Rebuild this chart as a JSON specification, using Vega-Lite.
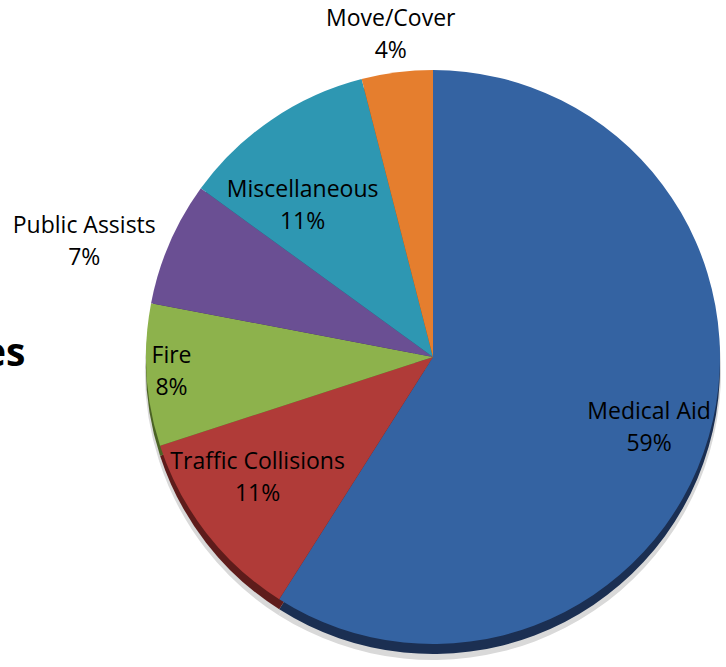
{
  "$schema": "https://vega.github.io/schema/vega-lite/v6.json",
  "width": 586,
  "height": 620,
  "autosize": "none",
  "padding": {"left": 140, "top": 47, "right": 0, "bottom": 0},
  "background": "white",
  "title": {
    "text": "es",
    "anchor": "start",
    "frame": "group",
    "orient": "top",
    "fontSize": 39,
    "fontWeight": "bold",
    "font": "Open Sans",
    "color": "#000000",
    "dx": -157,
    "dy": 370
  },
  "data": {
    "values": [
      {"category": "Medical Aid", "value": 59, "order": 1},
      {"category": "Traffic Collisions", "value": 11, "order": 2},
      {"category": "Fire", "value": 8, "order": 3},
      {"category": "Public Assists", "value": 7, "order": 4},
      {"category": "Miscellaneous", "value": 11, "order": 5},
      {"category": "Move/Cover", "value": 4, "order": 6}
    ]
  },
  "transform": [
    {"stack": "value", "groupby": [], "sort": [{"field": "order", "order": "ascending"}], "as": ["v0", "v1"]},
    {"calculate": "(datum.v0 + datum.v1) / 2", "as": "mid"},
    {"calculate": "[datum.category, datum.value + '%']", "as": "label"}
  ],
  "config": {"view": {"stroke": null}},
  "layer": [
    {
      "mark": {"type": "arc", "radius": 288, "yOffset": 15, "fill": "#d9d9d9"},
      "encoding": {
        "theta": {"field": "v0", "type": "quantitative", "scale": {"domain": [0, 100]}},
        "theta2": {"field": "v1"}
      }
    },
    {
      "mark": {"type": "arc", "radius": 287, "yOffset": 10},
      "encoding": {
        "theta": {"field": "v0", "type": "quantitative", "scale": {"domain": [0, 100]}},
        "theta2": {"field": "v1"},
        "color": {
          "field": "category", "type": "nominal", "legend": null,
          "scale": {
            "domain": ["Medical Aid", "Traffic Collisions", "Fire", "Public Assists", "Miscellaneous", "Move/Cover"],
            "range": ["#1b2f52", "#5e1c1b", "#4b6324", "#3a2a52", "#17566a", "#8a4a18"]
          }
        }
      }
    },
    {
      "mark": {"type": "arc", "radius": 287},
      "encoding": {
        "theta": {"field": "v0", "type": "quantitative", "scale": {"domain": [0, 100]}},
        "theta2": {"field": "v1"},
        "fill": {
          "field": "category", "type": "nominal", "legend": null,
          "scale": {
            "domain": ["Medical Aid", "Traffic Collisions", "Fire", "Public Assists", "Miscellaneous", "Move/Cover"],
            "range": ["#3463a2", "#b03b38", "#8db24c", "#6a4f93", "#2e97b2", "#e57e2e"]
          }
        }
      }
    },
    {
      "transform": [{"filter": "datum.category === 'Medical Aid'"}],
      "mark": {"type": "text", "radius": 225, "dy": -8, "font": "Open Sans", "fontSize": 23, "lineHeight": 32, "color": "#000000", "align": "center", "baseline": "middle"},
      "encoding": {
        "theta": {"field": "mid", "type": "quantitative", "scale": {"domain": [0, 100]}},
        "text": {"field": "label"}
      }
    },
    {
      "transform": [{"filter": "datum.category === 'Traffic Collisions'"}],
      "mark": {"type": "text", "radius": 222, "dy": -31, "font": "Open Sans", "fontSize": 23, "lineHeight": 32, "color": "#000000", "align": "center", "baseline": "middle"},
      "encoding": {
        "theta": {"field": "mid", "type": "quantitative", "scale": {"domain": [0, 100]}},
        "text": {"field": "label"}
      }
    },
    {
      "transform": [{"filter": "datum.category === 'Miscellaneous'"}],
      "mark": {"type": "text", "radius": 232, "dy": 25, "font": "Open Sans", "fontSize": 23, "lineHeight": 32, "color": "#000000", "align": "center", "baseline": "middle"},
      "encoding": {
        "theta": {"field": "mid", "type": "quantitative", "scale": {"domain": [0, 100]}},
        "text": {"field": "label"}
      }
    },
    {
      "transform": [{"filter": "datum.category === 'Fire'"}],
      "mark": {"type": "text", "radius": 262, "dy": -17, "font": "Open Sans", "fontSize": 23, "lineHeight": 32, "color": "#000000", "align": "center", "baseline": "middle"},
      "encoding": {
        "theta": {"field": "mid", "type": "quantitative", "scale": {"domain": [0, 100]}},
        "text": {"field": "label"}
      }
    },
    {
      "transform": [{"filter": "datum.category === 'Public Assists'"}],
      "mark": {"type": "text", "radius": 380, "dy": 20, "font": "Open Sans", "fontSize": 23, "lineHeight": 32, "color": "#000000", "align": "center", "baseline": "middle"},
      "encoding": {
        "theta": {"field": "mid", "type": "quantitative", "scale": {"domain": [0, 100]}},
        "text": {"field": "label"}
      }
    },
    {
      "transform": [{"filter": "datum.category === 'Move/Cover'"}],
      "mark": {"type": "text", "radius": 337, "dy": -4, "font": "Open Sans", "fontSize": 23, "lineHeight": 32, "color": "#000000", "align": "center", "baseline": "middle"},
      "encoding": {
        "theta": {"field": "mid", "type": "quantitative", "scale": {"domain": [0, 100]}},
        "text": {"field": "label"}
      }
    }
  ]
}
